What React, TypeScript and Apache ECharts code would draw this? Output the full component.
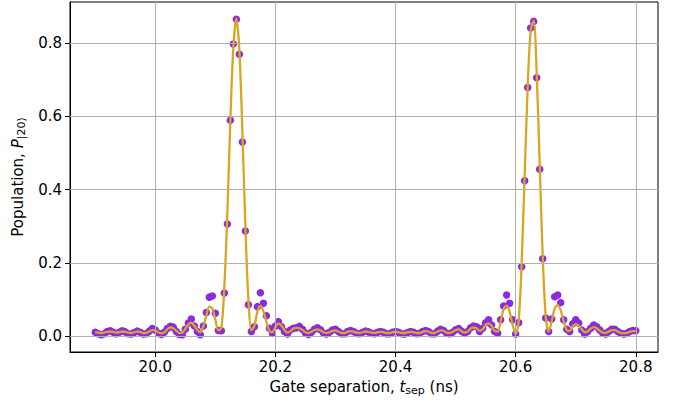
import React, { useEffect, useRef } from "react";
import * as echarts from "echarts";

const T_START = 19.9;
const T_STEP = 0.005;

const measured: number[] = [
  0.010, 0.006, 0.003, 0.006, 0.012, 0.014, 0.010, 0.006, 0.010, 0.014,
  0.011, 0.006, 0.005, 0.009, 0.013, 0.010, 0.005, 0.006, 0.013, 0.020,
  0.016, 0.007, 0.004, 0.010, 0.020, 0.026, 0.024, 0.012, 0.004, 0.003,
  0.018, 0.035, 0.046, 0.027, 0.012, 0.003, 0.027, 0.064, 0.106, 0.109,
  0.062, 0.015, 0.014, 0.117, 0.306, 0.590, 0.798, 0.866, 0.770, 0.530,
  0.287, 0.085, 0.012, 0.025, 0.080, 0.118, 0.089, 0.055, 0.021, 0.007,
  0.027, 0.039, 0.025, 0.012, 0.005, 0.016, 0.021, 0.022, 0.026, 0.018,
  0.008, 0.004, 0.010, 0.018, 0.022, 0.017, 0.008, 0.005, 0.010, 0.016,
  0.018, 0.012, 0.006, 0.006, 0.012, 0.015, 0.012, 0.007, 0.006, 0.010,
  0.013, 0.011, 0.007, 0.006, 0.010, 0.012, 0.010, 0.006, 0.006, 0.010,
  0.012, 0.010, 0.006, 0.005, 0.009, 0.012, 0.010, 0.006, 0.007, 0.012,
  0.015, 0.012, 0.006, 0.006, 0.013, 0.018, 0.015, 0.007, 0.006, 0.010,
  0.017, 0.020, 0.013, 0.007, 0.012, 0.022, 0.027, 0.025, 0.012, 0.021,
  0.036, 0.044, 0.030, 0.012, 0.007, 0.044, 0.082, 0.112, 0.089, 0.044,
  0.005, 0.036, 0.189, 0.424, 0.679, 0.842, 0.860, 0.706, 0.456, 0.211,
  0.049, 0.012, 0.046, 0.107, 0.112, 0.091, 0.044, 0.018, 0.012, 0.033,
  0.044, 0.035, 0.016, 0.005, 0.012, 0.021, 0.030, 0.025, 0.016, 0.008,
  0.005, 0.012, 0.018, 0.018, 0.012, 0.007, 0.005, 0.007, 0.012, 0.015, 0.014,
];

const fitted: number[] = [
  0.010, 0.009, 0.008, 0.009, 0.011, 0.012, 0.011, 0.009, 0.010, 0.012,
  0.011, 0.009, 0.008, 0.010, 0.012, 0.011, 0.008, 0.008, 0.012, 0.016,
  0.015, 0.010, 0.007, 0.010, 0.018, 0.023, 0.021, 0.014, 0.008, 0.009,
  0.019, 0.031, 0.036, 0.028, 0.016, 0.010, 0.026, 0.056, 0.080, 0.075,
  0.045, 0.015, 0.022, 0.135, 0.335, 0.590, 0.790, 0.868, 0.780, 0.560,
  0.300, 0.100, 0.015, 0.028, 0.066, 0.082, 0.068, 0.038, 0.014, 0.010,
  0.024, 0.034, 0.028, 0.016, 0.009, 0.013, 0.020, 0.022, 0.021, 0.016,
  0.010, 0.008, 0.011, 0.016, 0.018, 0.015, 0.010, 0.008, 0.010, 0.014,
  0.015, 0.012, 0.008, 0.008, 0.011, 0.013, 0.012, 0.009, 0.008, 0.010,
  0.012, 0.011, 0.009, 0.008, 0.010, 0.011, 0.010, 0.008, 0.008, 0.010,
  0.011, 0.010, 0.008, 0.008, 0.010, 0.011, 0.010, 0.008, 0.008, 0.011,
  0.013, 0.012, 0.008, 0.008, 0.012, 0.015, 0.014, 0.009, 0.008, 0.011,
  0.016, 0.018, 0.013, 0.009, 0.012, 0.020, 0.023, 0.021, 0.014, 0.018,
  0.030, 0.034, 0.027, 0.014, 0.012, 0.040, 0.074, 0.083, 0.066, 0.030,
  0.006, 0.040, 0.200, 0.440, 0.680, 0.835, 0.862, 0.720, 0.470, 0.220,
  0.055, 0.012, 0.040, 0.075, 0.084, 0.070, 0.040, 0.016, 0.014, 0.026,
  0.032, 0.028, 0.018, 0.010, 0.013, 0.020, 0.024, 0.021, 0.014, 0.009,
  0.008, 0.012, 0.016, 0.016, 0.012, 0.008, 0.007, 0.008, 0.011, 0.013, 0.013,
];

const xTicks: number[] = [20.0, 20.2, 20.4, 20.6, 20.8];
const yTicks: number[] = [0.0, 0.2, 0.4, 0.6, 0.8];

const times: number[] = measured.map((_, i) => +(T_START + i * T_STEP).toFixed(4));

const FONT = "DejaVu Sans";

export default function App() {
  const ref = useRef<HTMLDivElement>(null);
  useEffect(() => {
    if (!ref.current) return;
    const chart = echarts.init(ref.current, null, { renderer: "svg" });
    const gridLines = [
      ...xTicks.map((v) => ({ xAxis: v })),
      ...yTicks.map((v) => ({ yAxis: v })),
    ];
    const rich = {
      i: { fontStyle: "italic", fontSize: 15, fontFamily: FONT, color: "#000000" },
      s: { fontSize: 11, fontFamily: FONT, color: "#000000", verticalAlign: "bottom", padding: [7, 0, 0, 0] },
    };
    chart.setOption({
      animation: false,
      backgroundColor: "#ffffff",
      textStyle: { fontFamily: FONT },
      grid: {
        left: 70,
        right: 30,
        top: 2,
        bottom: 51,
        show: true,
        containLabel: false,
        outerBoundsMode: "none",
        borderColor: "#000000",
        borderWidth: 1,
        backgroundColor: "transparent",
      },
      xAxis: {
        type: "value",
        min: 19.858,
        max: 20.837,
        axisLine: { show: true, onZero: false, lineStyle: { color: "#000000", width: 1 } },
        axisTick: { show: true, length: 5, customValues: xTicks, lineStyle: { color: "#000000" } },
        axisLabel: {
          customValues: xTicks,
          formatter: (v: number) => v.toFixed(1),
          color: "#000000",
          fontSize: 15,
          fontFamily: FONT,
          margin: 7,
        },
        splitLine: { show: false },
        name: "Gate separation, {i|t}{s|sep} (ns)",
        nameLocation: "middle",
        nameGap: 26,
        nameTextStyle: {
          color: "#000000",
          fontSize: 15,
          fontFamily: FONT,
          rich,
        },
      },
      yAxis: {
        type: "value",
        min: -0.044,
        max: 0.913,
        axisLine: { show: true, onZero: false, lineStyle: { color: "#000000", width: 1 } },
        axisTick: { show: true, length: 5, customValues: yTicks, lineStyle: { color: "#000000" } },
        axisLabel: {
          customValues: yTicks,
          formatter: (v: number) => v.toFixed(1),
          color: "#000000",
          fontSize: 15,
          fontFamily: FONT,
          margin: 8,
        },
        splitLine: { show: false },
        name: "Population, {i|P}{s||20⟩}",
        nameLocation: "middle",
        nameGap: 42,
        nameRotate: 90,
        nameTextStyle: {
          color: "#000000",
          fontSize: 15,
          fontFamily: FONT,
          rich,
        },
      },
      series: [
        {
          type: "line",
          data: [],
          z: 1,
          silent: true,
          markLine: {
            silent: true,
            symbol: "none",
            label: { show: false },
            lineStyle: { color: "#b0b0b0", width: 1, type: "solid" },
            data: gridLines,
          },
        },
        {
          type: "scatter",
          data: times.map((t, i) => [t, measured[i]]),
          symbol: "circle",
          symbolSize: 7.5,
          itemStyle: { color: "#8a2be2", opacity: 1 },
          z: 2,
        },
        {
          type: "line",
          data: times.map((t, i) => [t, fitted[i]]),
          showSymbol: false,
          smooth: 0.3,
          lineStyle: { color: "#daa520", width: 2.3 },
          z: 3,
        },
      ],
    });
    return () => chart.dispose();
  }, []);
  return (
    <div
      ref={ref}
      style={{ position: "absolute", left: 0, top: 0, width: 688, height: 403 }}
    />
  );
}
